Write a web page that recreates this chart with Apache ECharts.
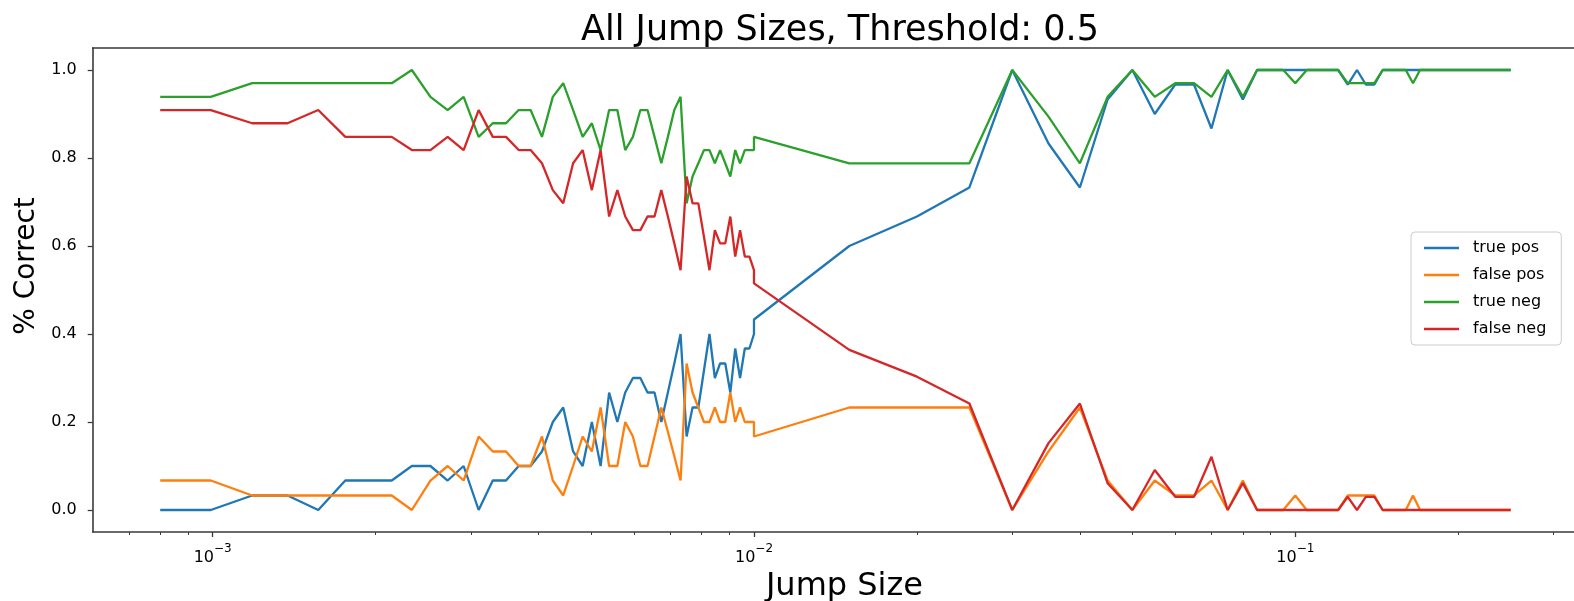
<!DOCTYPE html>
<html><head><meta charset="utf-8">
<script src="https://cdn.jsdelivr.net/npm/echarts@6.0.0/dist/echarts.min.js"></script>
<style>html,body{margin:0;padding:0;background:#fff}#c{width:1574px;height:601px}</style>
</head><body><div id="c"></div><script>
// ---- data ----
const jumpSizes = [
  0.0008, 0.000992, 0.001183, 0.001375, 0.001567, 0.001758, 0.00195, 0.002142, 0.002333, 0.002525,
  0.002717, 0.002908, 0.0031, 0.003292, 0.003483, 0.003675, 0.003867, 0.004058, 0.00425, 0.004442,
  0.004633, 0.004825, 0.005017, 0.005208, 0.0054, 0.005592, 0.005783, 0.005975, 0.006167, 0.006358,
  0.00655, 0.006742, 0.006933, 0.007125, 0.007317, 0.007508, 0.0077, 0.007892, 0.008083, 0.008275,
  0.008467, 0.008658, 0.00885, 0.009042, 0.009233, 0.009425, 0.009617, 0.009808, 0.01,
  0.01, 0.015, 0.02, 0.025, 0.03, 0.035, 0.04, 0.045, 0.05, 0.055,
  0.06, 0.065, 0.07, 0.075, 0.08, 0.085, 0.09, 0.095, 0.1, 0.105,
  0.11, 0.115, 0.12, 0.125, 0.13, 0.135, 0.14, 0.145, 0.15, 0.155,
  0.16, 0.165, 0.17, 0.175, 0.18, 0.185, 0.19, 0.195, 0.2, 0.205,
  0.21, 0.215, 0.22, 0.225, 0.23, 0.235, 0.24, 0.245, 0.25
];
const truePos = [
  0, 0, 0.033, 0.033, 0, 0.067, 0.067, 0.067, 0.1, 0.1,
  0.067, 0.1, 0, 0.067, 0.067, 0.1, 0.1, 0.133, 0.2, 0.233,
  0.133, 0.1, 0.2, 0.1, 0.267, 0.2, 0.267, 0.3, 0.3, 0.267,
  0.267, 0.2, 0.267, 0.333, 0.4, 0.167, 0.233, 0.233, 0.317, 0.4,
  0.3, 0.333, 0.333, 0.267, 0.367, 0.3, 0.367, 0.367, 0.4,
  0.433, 0.6, 0.667, 0.733, 1, 0.833, 0.733, 0.933, 1, 0.9,
  0.967, 0.967, 0.867, 1, 0.933, 1, 1, 1, 1, 1,
  1, 1, 1, 0.967, 1, 0.967, 0.967, 1, 1, 1,
  1, 1, 1, 1, 1, 1, 1, 1, 1, 1,
  1, 1, 1, 1, 1, 1, 1, 1, 1
];
const falsePos = [
  0.067, 0.067, 0.033, 0.033, 0.033, 0.033, 0.033, 0.033, 0, 0.067,
  0.1, 0.067, 0.167, 0.133, 0.133, 0.1, 0.1, 0.167, 0.067, 0.033,
  0.1, 0.167, 0.133, 0.233, 0.1, 0.1, 0.2, 0.167, 0.1, 0.1,
  0.167, 0.233, 0.178, 0.122, 0.067, 0.333, 0.267, 0.233, 0.2, 0.2,
  0.233, 0.2, 0.2, 0.267, 0.2, 0.233, 0.2, 0.2, 0.2,
  0.167, 0.233, 0.233, 0.233, 0, 0.133, 0.233, 0.067, 0, 0.067,
  0.033, 0.033, 0.067, 0, 0.067, 0, 0, 0, 0.033, 0,
  0, 0, 0, 0.033, 0.033, 0.033, 0.033, 0, 0, 0,
  0, 0.033, 0, 0, 0, 0, 0, 0, 0, 0,
  0, 0, 0, 0, 0, 0, 0, 0, 0
];
const trueNeg = [
  0.939, 0.939, 0.97, 0.97, 0.97, 0.97, 0.97, 0.97, 1, 0.939,
  0.909, 0.939, 0.848, 0.879, 0.879, 0.909, 0.909, 0.848, 0.939, 0.97,
  0.909, 0.848, 0.879, 0.818, 0.909, 0.909, 0.818, 0.848, 0.909, 0.909,
  0.848, 0.788, 0.848, 0.909, 0.939, 0.697, 0.758, 0.788, 0.818, 0.818,
  0.788, 0.818, 0.788, 0.758, 0.818, 0.788, 0.818, 0.818, 0.818,
  0.848, 0.788, 0.788, 0.788, 1, 0.894, 0.788, 0.939, 1, 0.939,
  0.97, 0.97, 0.939, 1, 0.939, 1, 1, 1, 0.97, 1,
  1, 1, 1, 0.97, 0.97, 0.97, 0.97, 1, 1, 1,
  1, 0.97, 1, 1, 1, 1, 1, 1, 1, 1,
  1, 1, 1, 1, 1, 1, 1, 1, 1
];
const falseNeg = [
  0.909, 0.909, 0.879, 0.879, 0.909, 0.848, 0.848, 0.848, 0.818, 0.818,
  0.848, 0.818, 0.909, 0.848, 0.848, 0.818, 0.818, 0.788, 0.727, 0.697,
  0.788, 0.818, 0.727, 0.818, 0.667, 0.727, 0.667, 0.636, 0.636, 0.667,
  0.667, 0.727, 0.667, 0.606, 0.545, 0.758, 0.697, 0.697, 0.621, 0.545,
  0.636, 0.606, 0.606, 0.667, 0.576, 0.636, 0.576, 0.576, 0.545,
  0.515, 0.364, 0.303, 0.242, 0, 0.152, 0.242, 0.061, 0, 0.091,
  0.03, 0.03, 0.121, 0, 0.061, 0, 0, 0, 0, 0,
  0, 0, 0, 0.03, 0, 0.03, 0.03, 0, 0, 0,
  0, 0, 0, 0, 0, 0, 0, 0, 0, 0,
  0, 0, 0, 0, 0, 0, 0, 0, 0
];
const seriesNames = ['true pos', 'false pos', 'true neg', 'false neg'];
const seriesColors = ['#1f77b4', '#ff7f0e', '#2ca02c', '#d62728'];
const xMajorTicks = [0.001, 0.01, 0.1];
const xMinorTicks = [0.0006, 0.0007, 0.0008, 0.0009,
  0.002, 0.003, 0.004, 0.005, 0.006, 0.007, 0.008, 0.009,
  0.02, 0.03, 0.04, 0.05, 0.06, 0.07, 0.08, 0.09, 0.2, 0.3];
const yTicks = [0, 0.2, 0.4, 0.6, 0.8, 1.0];

// ---- chart ----
const FONT = 'DejaVu Sans';
const AX = '#3a3a3a';
const xMin = 0.0006003, xMax = 0.33313;
const allValues = [truePos, falsePos, trueNeg, falseNeg];

const chart = echarts.init(document.getElementById('c'), null, {renderer: 'canvas'});
const option = {
  animation: false,
  backgroundColor: '#ffffff',
  title: {
    text: 'All Jump Sizes, Threshold: 0.5',
    left: 835, top: 5, textAlign: 'center',
    textStyle: {fontFamily: FONT, fontSize: 35, fontWeight: 'normal', color: '#000', lineHeight: 42}
  },
  grid: {left: 92.7, right: -4.2, top: 48, bottom: 69, show: false,
         outerBoundsMode: 'none', containLabel: false},
  legend: {
    orient: 'vertical', left: 1411, top: 232,
    data: seriesNames, icon: 'rect', itemWidth: 35, itemHeight: 2.5, itemGap: 7,
    padding: [6, 15, 6, 13],
    borderColor: '#cccccc', borderWidth: 1, borderRadius: 4, backgroundColor: 'rgba(255,255,255,0.8)',
    textStyle: {fontFamily: FONT, fontSize: 16, color: '#000', lineHeight: 20, padding: [0, 0, 0, 9]}
  },
  xAxis: [{
    type: 'log', logBase: 10, min: xMin, max: xMax, position: 'bottom',
    name: 'Jump Size', nameLocation: 'middle', nameGap: 27,
    nameTextStyle: {fontFamily: FONT, fontSize: 32, color: '#000', padding: [0, 0, 0, 18]},
    axisLine: {show: true, onZero: false, lineStyle: {color: AX, width: 1.6}},
    axisTick: {show: true, customValues: xMajorTicks, length: 5, inside: false, lineStyle: {color: AX, width: 1.3}},
    axisLabel: {
      customValues: xMajorTicks, margin: 11,
      formatter: function (v) { return '{b|10}{s|\u2212' + Math.round(-Math.log10(v)) + '}'; },
      rich: {
        b: {fontFamily: FONT, fontSize: 16, color: '#000', lineHeight: 23, verticalAlign: 'bottom'},
        s: {fontFamily: FONT, fontSize: 12, color: '#000', lineHeight: 14, verticalAlign: 'top'}
      }
    },
    splitLine: {show: false}
  }, {
    type: 'log', logBase: 10, min: xMin, max: xMax, position: 'bottom', gridIndex: 0,
    axisLine: {show: false, onZero: false},
    axisTick: {show: true, customValues: xMinorTicks, length: 3, lineStyle: {color: AX, width: 1}},
    axisLabel: {show: false},
    splitLine: {show: false}
  }, {
    type: 'log', logBase: 10, min: xMin, max: xMax, position: 'top', gridIndex: 0,
    axisLine: {show: true, onZero: false, lineStyle: {color: AX, width: 1.6}},
    axisTick: {show: false}, axisLabel: {show: false}, splitLine: {show: false}
  }],
  yAxis: {
    type: 'value', min: -0.05, max: 1.05,
    name: '% Correct', nameLocation: 'middle', nameGap: 42, nameRotate: 90,
    nameTextStyle: {fontFamily: FONT, fontSize: 28, color: '#000', padding: [0, 0, 0, 48]},
    axisLine: {show: true, onZero: false, lineStyle: {color: AX, width: 1.6}},
    axisTick: {show: true, customValues: yTicks, length: 5, lineStyle: {color: AX, width: 1.3}},
    axisLabel: {customValues: yTicks, margin: 16, fontFamily: FONT, fontSize: 16, color: '#000',
                formatter: function (v) { return v.toFixed(1); }},
    splitLine: {show: false}
  },
  series: seriesNames.map(function (name, si) {
    return {
      name: name, type: 'line', xAxisIndex: 0, yAxisIndex: 0,
      showSymbol: false, symbol: 'none',
      lineStyle: {color: seriesColors[si], width: 2.3},
      itemStyle: {color: seriesColors[si]},
      emphasis: {disabled: true},
      data: jumpSizes.map(function (x, i) { return [x, allValues[si][i]]; })
    };
  })
};
chart.setOption(option);
</script></body></html>
